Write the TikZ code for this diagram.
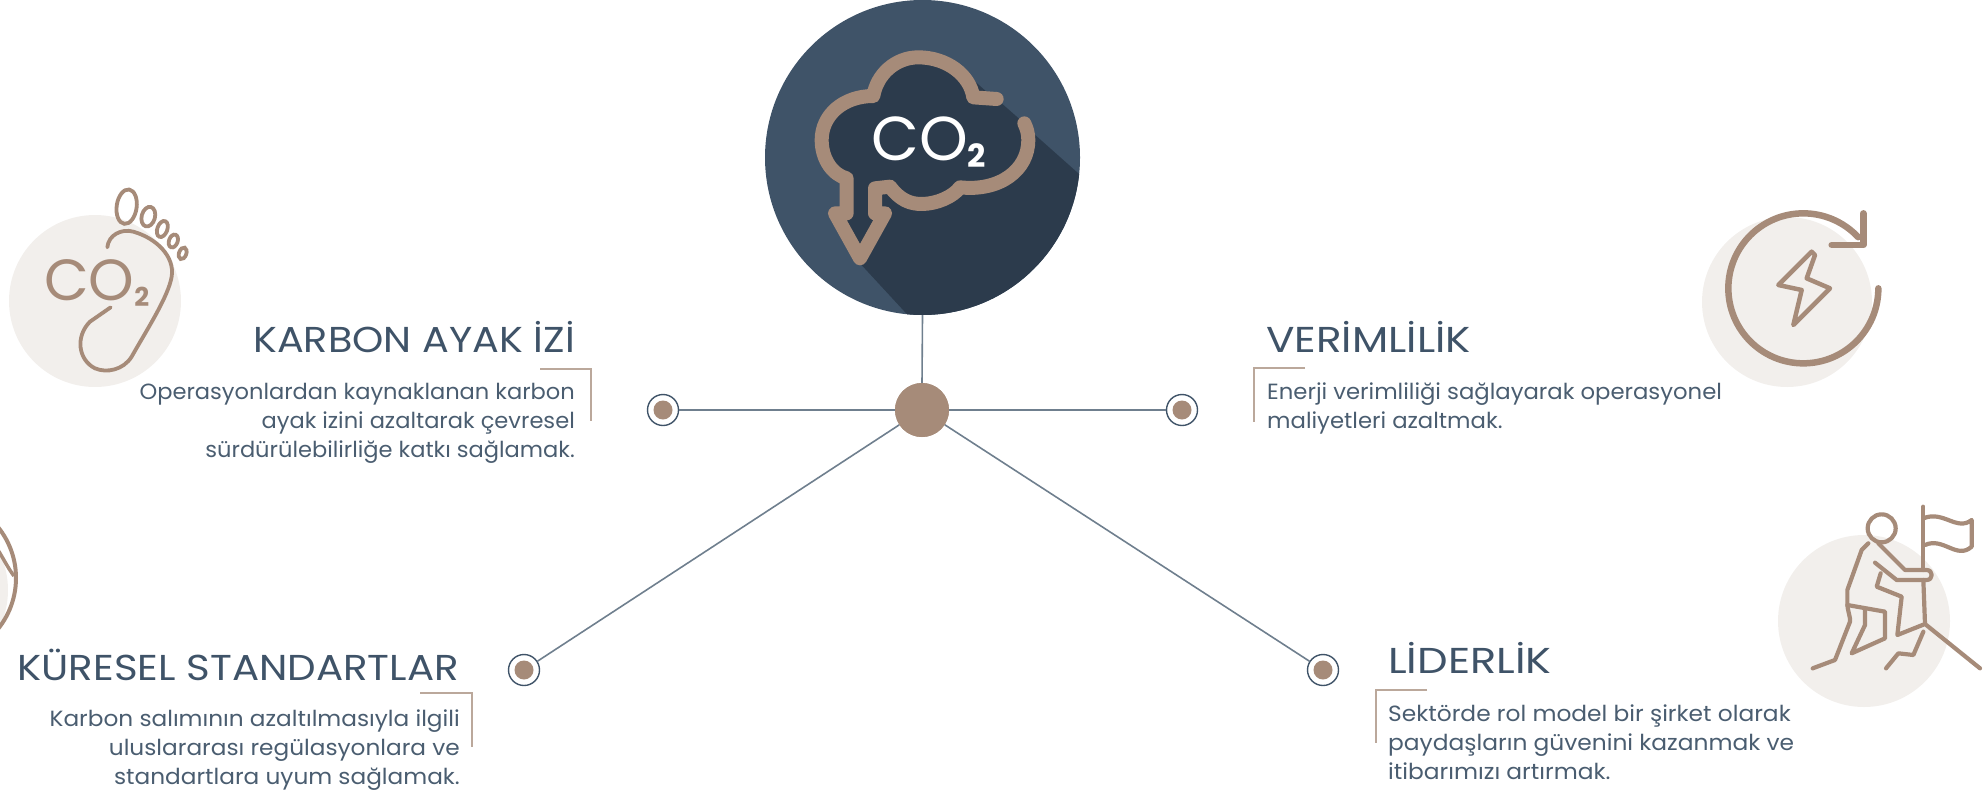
\documentclass[tikz,border=0pt]{standalone}
\usepackage{fontspec}
\setmainfont{Poppins}
\newfontfamily\bodyfont{Poppins}
\definecolor{ink}{HTML}{3F5368}
\definecolor{inkbody}{HTML}{4A5D70}
\definecolor{inkdark}{HTML}{2C3B4C}
\definecolor{tan}{HTML}{A68B79}
\definecolor{pale}{HTML}{F2EFEC}
\definecolor{bracket}{HTML}{BBA89B}
\definecolor{wire}{HTML}{6F7F8E}
\tikzset{
  headtext/.style={text=ink,font=\bodyfont\addfontfeature{FakeStretch=#1}\fontsize{36}{36}\selectfont,inner sep=0pt},
  bodytext/.style={text=inkbody,font=\bodyfont\addfontfeature{FakeStretch=#1}\fontsize{22}{29}\selectfont,inner sep=0pt},
  endpoint/.style={circle,draw=ink,fill=white,line width=1.4pt,minimum size=31pt,inner sep=0pt},
  endcore/.style={circle,fill=tan,minimum size=19pt,inner sep=0pt},
  wireline/.style={draw=wire,line width=1.6pt},
  bracketline/.style={draw=bracket,line width=1.5pt},
  iconline/.style={draw=tan,line width=4.2pt,line cap=round,line join=round},
  paledisc/.style={circle,fill=pale,inner sep=0pt}
}
\begin{document}
\begin{tikzpicture}[x=1pt,y=-1pt]
\useasboundingbox (0,0) rectangle (1986,790);
% central disc
\node[circle,fill=ink,minimum size=315pt,inner sep=0pt] (disc) at (922.5,157.5) {};
\begin{scope}
\clip (922.5,157.5) circle (157.5);
\begin{scope}[shift={(740,0)},scale=1/3]
\fill[inkdark] (700,240) -- (1150,640) -- (1150,1050) -- (600,1050) -- (360,790) -- (320,640) -- (320,530) -- (400,285) -- (530,175) -- cycle;
\end{scope}
\end{scope}
\begin{scope}[shift={(740,0)},scale=1/3]
\fill[inkdark] (770,297) -- (700,292) .. controls (690,225) and (620,172) .. (535,172) .. controls (465,172) and (410,225) .. (400,288) .. controls (310,288) and (245,345) .. (245,420) .. controls (245,480) and (280,525) .. (320,535) -- (320,640) -- (285,640) -- (360,775) -- (435,640) -- (405,640) -- (405,565) -- (450,560) .. controls (480,600) and (510,612) .. (545,612) .. controls (590,612) and (640,590) .. (660,562) .. controls (780,575) and (865,510) .. (865,420) .. controls (865,400) and (860,385) .. (853,370) -- cycle;
\draw[draw=tan,line width=14pt,line cap=round,line join=round] (770,297) -- (700,292) .. controls (690,225) and (620,172) .. (535,172) .. controls (465,172) and (410,225) .. (400,288) .. controls (310,288) and (245,345) .. (245,420) .. controls (245,480) and (280,525) .. (320,535) -- (320,640) -- (285,640) -- (360,775) -- (435,640) -- (405,640) -- (405,565) -- (450,560) .. controls (480,600) and (510,612) .. (545,612) .. controls (590,612) and (640,590) .. (660,562) .. controls (780,575) and (865,510) .. (865,420) .. controls (865,400) and (860,385) .. (853,370);
\node[text=white,font=\fontsize{62}{62}\selectfont,inner sep=0pt] (cloudco) at (566,425) {CO\raisebox{-7pt}{\bodyfont\bfseries\fontsize{32}{32}\selectfont 2}};
\end{scope}
% hub and connectors
\node[circle,fill=tan,minimum size=54pt,inner sep=0pt] (hub) at (922,410) {};
\node[endpoint] (nl) at (663,410) {};
\node[endpoint] (nr) at (1182,410) {};
\node[endpoint] (bl) at (524,670) {};
\node[endpoint] (br) at (1323,670) {};
\draw[wireline] (disc.south) -- (hub.north);
\draw[wireline] (hub) -- (nl);
\draw[wireline] (hub) -- (nr);
\draw[wireline] (hub) -- (bl);
\draw[wireline] (hub) -- (br);
\node[circle,fill=tan,minimum size=54pt,inner sep=0pt] (hubtop) at (hub) {};
\node[endcore] (nlc) at (nl) {};
\node[endcore] (nrc) at (nr) {};
\node[endcore] (blc) at (bl) {};
\node[endcore] (brc) at (br) {};
% foot icon
\node[paledisc,minimum size=172pt] (footdisc) at (95,301) {};
\begin{scope}[shift={(0,170)},scale=1/3]
\begin{scope}[draw=tan,line width=3.8pt]
\draw (380,110) ellipse [x radius=30,y radius=52,rotate=-8];
\draw (445,140) ellipse [x radius=20,y radius=30,rotate=-15];
\draw (487,177) ellipse [x radius=15,y radius=25,rotate=-20];
\draw (520,213) ellipse [x radius=13,y radius=20,rotate=-20];
\draw (548,250) ellipse [x radius=11,y radius=18,rotate=-20];
\draw[line cap=round] (322,232) .. controls (325,195) and (365,175) .. (400,185) .. controls (470,205) and (525,260) .. (515,320) .. controls (505,380) and (440,480) .. (395,560) .. controls (370,600) and (320,610) .. (285,595) .. controls (235,570) and (225,500) .. (270,455) -- (332,412);
\end{scope}
\node[text=tan,font=\fontsize{58}{58}\selectfont,inner sep=0pt] (footco) at (290,338) {CO\raisebox{-6pt}{\bodyfont\bfseries\fontsize{26}{26}\selectfont 2}};
\end{scope}
% energy icon
\node[paledisc,minimum size=170pt] (energydisc) at (1787,302) {};
\begin{scope}[shift={(1680,190)},scale=1/3]
\draw[draw=tan,line width=6.5pt,line cap=round,line join=round] (595,295) arc[start angle=0,end angle=317,radius=225];
\draw[draw=tan,line width=6.5pt,line cap=round,line join=round] (550,70) -- (550,165) -- (455,165);
\draw[draw=tan,line width=4.5pt,line join=round] (395,185) -- (295,285) -- (365,300) -- (340,405) -- (450,295) -- (380,265) -- (405,195) -- cycle;
\end{scope}
% climber icon
\node[paledisc,minimum size=172pt] (climbdisc) at (1864,621) {};
\begin{scope}[shift={(1760,490)},scale=1/3]
\draw[iconline] (365,115) circle (42);
\draw[iconline] (325,160) -- (305,180) -- (262,300) -- (262,345) .. controls (265,370) and (272,385) .. (270,395) -- (225,510) -- (158,535);
\draw[iconline] (355,160) -- (435,240) -- (500,240) .. controls (520,240) and (520,270) .. (500,270) -- (410,270) -- (345,218);
\draw[iconline] (362,250) -- (350,290) -- (425,320) -- (412,435) -- (495,402) -- (660,535);
\draw[iconline] (490,50) -- (490,240);
\draw[iconline] (490,270) -- (495,402);
\draw[iconline] (490,85) .. controls (550,60) and (590,125) .. (635,90) -- (635,170) .. controls (590,210) and (550,140) .. (495,165);
\draw[iconline] (262,345) -- (375,365) -- (375,445) -- (275,490) -- (315,405) -- (315,355);
\draw[iconline] (490,425) -- (460,495) -- (415,490) -- (378,535);
\end{scope}
% globe fragment
\begin{scope}
\clip (0,510) rectangle (40,640);
\fill[pale] (-78,590) circle (86);
\draw[draw=tan,line width=4pt] (-65,578) circle (81);
\draw[draw=tan,line width=3.5pt] (-2,550) .. controls (3,558) and (8,568) .. (14,576);
\end{scope}
% texts
\node[headtext=1.105,anchor=base east] (h1) at (575,352) {KARBON AYAK İZİ};
\node[bodytext=1.025,anchor=north east,align=right] (t1) at (575,383) {Operasyonlardan kaynaklanan karbon\\ayak izini azaltarak çevresel\\sürdürülebilirliğe katkı sağlamak.};
\node[headtext=1.17,anchor=base west] (h2) at (1266,352) {VERİMLİLİK};
\node[bodytext=1.034,anchor=north west,align=left] (t2) at (1267,383) {Enerji verimliliği sağlayarak operasyonel\\maliyetleri azaltmak.};
\node[headtext=1.12,anchor=base east] (h3) at (459,680) {KÜRESEL STANDARTLAR};
\node[bodytext=1.055,anchor=north east,align=right] (t3) at (460,710) {Karbon salımının azaltılmasıyla ilgili\\uluslararası regülasyonlara ve\\standartlara uyum sağlamak.};
\node[headtext=1.2,anchor=base west] (h4) at (1388,673) {LİDERLİK};
\node[bodytext=1.06,anchor=north west,align=left] (t4) at (1388,705) {Sektörde rol model bir şirket olarak\\paydaşların güvenini kazanmak ve\\itibarımızı artırmak.};
% brackets
\draw[bracketline] (540,369) -- (591,369) -- (591,421);
\draw[bracketline] (1305,368) -- (1254,368) -- (1254,422);
\draw[bracketline] (420,693) -- (472,693) -- (472,747);
\draw[bracketline] (1427,690) -- (1376,690) -- (1376,743);
\end{tikzpicture}
\end{document}
